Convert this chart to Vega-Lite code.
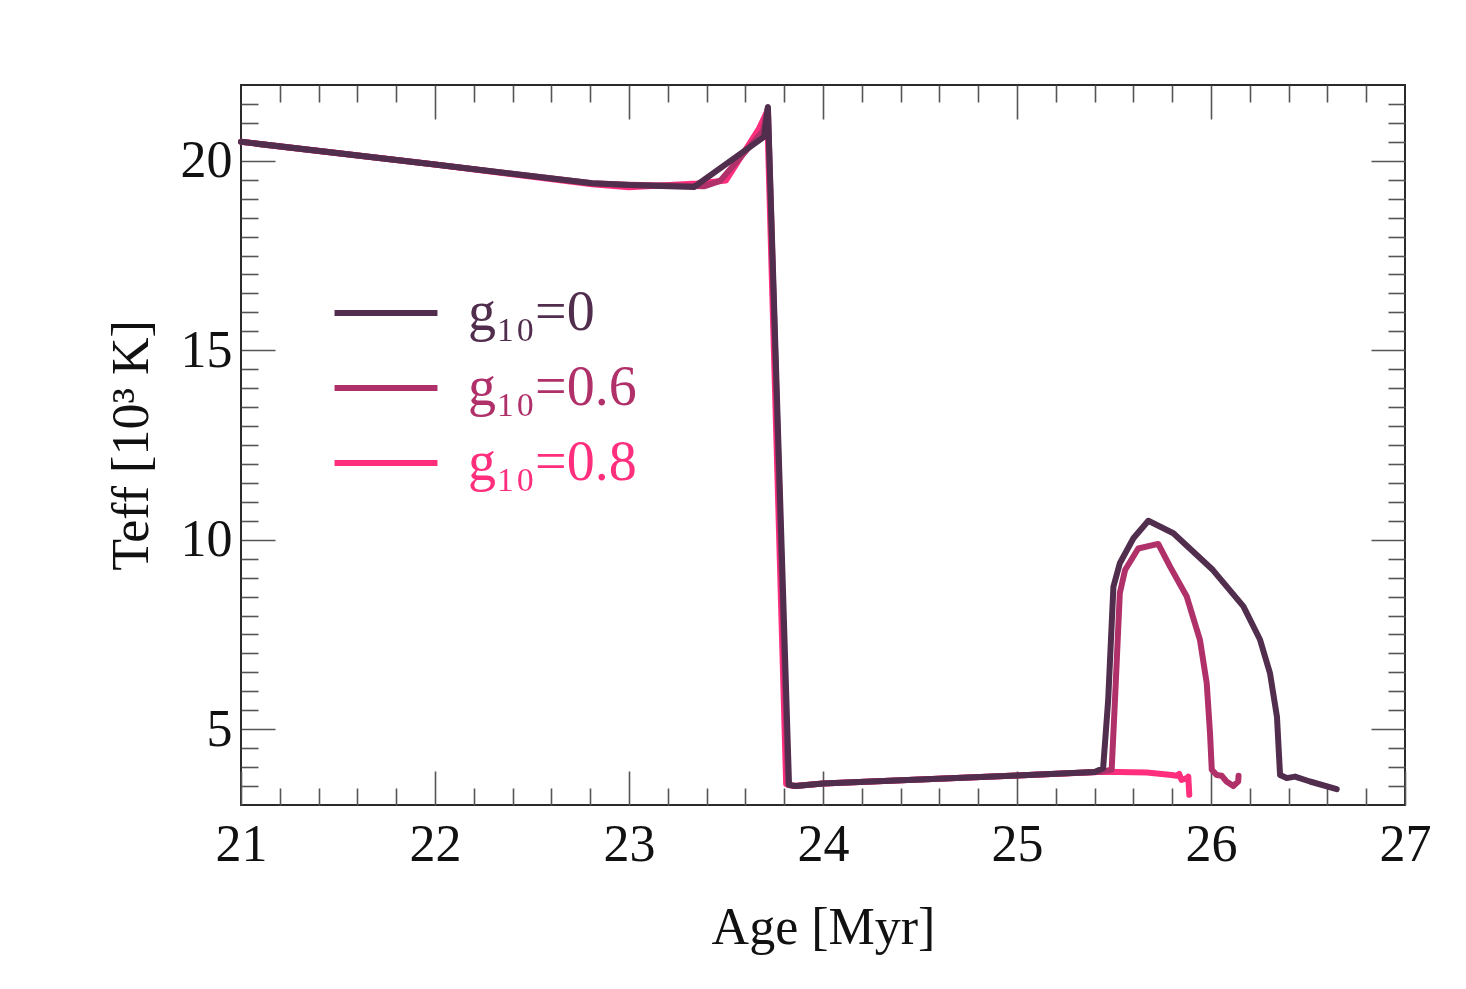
{
  "$schema": "https://vega.github.io/schema/vega-lite/v6.json",
  "width": 1164,
  "height": 720,
  "autosize": {"type": "none"},
  "padding": {"left": 241, "top": 85, "right": 61, "bottom": 184},
  "background": "white",
  "config": {
    "view": {"stroke": "#2a2a2a", "strokeWidth": 2},
    "font": "Liberation Serif",
    "axis": {
      "grid": false,
      "domain": false,
      "tickColor": "#555555",
      "tickWidth": 1.6,
      "labelFont": "Liberation Serif",
      "titleFont": "Liberation Serif",
      "labelColor": "#111111",
      "titleColor": "#111111",
      "labelFontSize": 52,
      "titleFontSize": 52,
      "titleFontWeight": "normal",
      "labelOverlap": false,
      "labelFlush": false
    }
  },
  "data": {
    "values": [
      {"s": "g₁₀=0.8", "i": 1, "age": 21.0, "T": 20.5},
      {"s": "g₁₀=0.8", "i": 2, "age": 22.0, "T": 19.9},
      {"s": "g₁₀=0.8", "i": 3, "age": 22.81, "T": 19.38},
      {"s": "g₁₀=0.8", "i": 4, "age": 23.0, "T": 19.3},
      {"s": "g₁₀=0.8", "i": 5, "age": 23.35, "T": 19.4},
      {"s": "g₁₀=0.8", "i": 6, "age": 23.5, "T": 19.48},
      {"s": "g₁₀=0.8", "i": 7, "age": 23.67, "T": 20.85},
      {"s": "g₁₀=0.8", "i": 8, "age": 23.712, "T": 21.3},
      {"s": "g₁₀=0.8", "i": 9, "age": 23.81, "T": 3.55},
      {"s": "g₁₀=0.8", "i": 10, "age": 23.85, "T": 3.5},
      {"s": "g₁₀=0.8", "i": 11, "age": 24.0, "T": 3.57},
      {"s": "g₁₀=0.8", "i": 12, "age": 24.5, "T": 3.67},
      {"s": "g₁₀=0.8", "i": 13, "age": 25.0, "T": 3.78},
      {"s": "g₁₀=0.8", "i": 14, "age": 25.45, "T": 3.88},
      {"s": "g₁₀=0.8", "i": 15, "age": 25.669, "T": 3.86},
      {"s": "g₁₀=0.8", "i": 16, "age": 25.797, "T": 3.79},
      {"s": "g₁₀=0.8", "i": 17, "age": 25.823, "T": 3.77},
      {"s": "g₁₀=0.8", "i": 18, "age": 25.836, "T": 3.82},
      {"s": "g₁₀=0.8", "i": 19, "age": 25.848, "T": 3.66},
      {"s": "g₁₀=0.8", "i": 20, "age": 25.875, "T": 3.71},
      {"s": "g₁₀=0.8", "i": 21, "age": 25.883, "T": 3.75},
      {"s": "g₁₀=0.8", "i": 22, "age": 25.888, "T": 3.27},

      {"s": "g₁₀=0.6", "i": 1, "age": 21.0, "T": 20.5},
      {"s": "g₁₀=0.6", "i": 2, "age": 22.0, "T": 19.9},
      {"s": "g₁₀=0.6", "i": 3, "age": 22.81, "T": 19.41},
      {"s": "g₁₀=0.6", "i": 4, "age": 23.0, "T": 19.37},
      {"s": "g₁₀=0.6", "i": 5, "age": 23.39, "T": 19.33},
      {"s": "g₁₀=0.6", "i": 6, "age": 23.47, "T": 19.47},
      {"s": "g₁₀=0.6", "i": 7, "age": 23.69, "T": 20.78},
      {"s": "g₁₀=0.6", "i": 8, "age": 23.716, "T": 21.4},
      {"s": "g₁₀=0.6", "i": 9, "age": 23.82, "T": 3.53},
      {"s": "g₁₀=0.6", "i": 10, "age": 23.86, "T": 3.5},
      {"s": "g₁₀=0.6", "i": 11, "age": 24.0, "T": 3.57},
      {"s": "g₁₀=0.6", "i": 12, "age": 24.5, "T": 3.67},
      {"s": "g₁₀=0.6", "i": 13, "age": 25.0, "T": 3.78},
      {"s": "g₁₀=0.6", "i": 14, "age": 25.44, "T": 3.88},
      {"s": "g₁₀=0.6", "i": 15, "age": 25.488, "T": 3.93},
      {"s": "g₁₀=0.6", "i": 16, "age": 25.505, "T": 5.77},
      {"s": "g₁₀=0.6", "i": 17, "age": 25.53, "T": 8.59},
      {"s": "g₁₀=0.6", "i": 18, "age": 25.557, "T": 9.2},
      {"s": "g₁₀=0.6", "i": 19, "age": 25.625, "T": 9.77},
      {"s": "g₁₀=0.6", "i": 20, "age": 25.728, "T": 9.89},
      {"s": "g₁₀=0.6", "i": 21, "age": 25.789, "T": 9.29},
      {"s": "g₁₀=0.6", "i": 22, "age": 25.875, "T": 8.5},
      {"s": "g₁₀=0.6", "i": 23, "age": 25.943, "T": 7.36},
      {"s": "g₁₀=0.6", "i": 24, "age": 25.978, "T": 6.21},
      {"s": "g₁₀=0.6", "i": 25, "age": 25.995, "T": 4.89},
      {"s": "g₁₀=0.6", "i": 26, "age": 26.004, "T": 3.93},
      {"s": "g₁₀=0.6", "i": 27, "age": 26.03, "T": 3.79},
      {"s": "g₁₀=0.6", "i": 28, "age": 26.055, "T": 3.77},
      {"s": "g₁₀=0.6", "i": 29, "age": 26.08, "T": 3.62},
      {"s": "g₁₀=0.6", "i": 30, "age": 26.115, "T": 3.5},
      {"s": "g₁₀=0.6", "i": 31, "age": 26.14, "T": 3.62},
      {"s": "g₁₀=0.6", "i": 32, "age": 26.142, "T": 3.77},

      {"s": "g₁₀=0", "i": 1, "age": 21.0, "T": 20.5},
      {"s": "g₁₀=0", "i": 2, "age": 22.0, "T": 19.9},
      {"s": "g₁₀=0", "i": 3, "age": 22.81, "T": 19.41},
      {"s": "g₁₀=0", "i": 4, "age": 23.0, "T": 19.36},
      {"s": "g₁₀=0", "i": 5, "age": 23.335, "T": 19.31},
      {"s": "g₁₀=0", "i": 6, "age": 23.696, "T": 20.63},
      {"s": "g₁₀=0", "i": 7, "age": 23.716, "T": 21.42},
      {"s": "g₁₀=0", "i": 8, "age": 23.825, "T": 3.53},
      {"s": "g₁₀=0", "i": 9, "age": 23.86, "T": 3.5},
      {"s": "g₁₀=0", "i": 10, "age": 24.0, "T": 3.57},
      {"s": "g₁₀=0", "i": 11, "age": 24.5, "T": 3.67},
      {"s": "g₁₀=0", "i": 12, "age": 25.0, "T": 3.78},
      {"s": "g₁₀=0", "i": 13, "age": 25.4, "T": 3.87},
      {"s": "g₁₀=0", "i": 14, "age": 25.444, "T": 3.97},
      {"s": "g₁₀=0", "i": 15, "age": 25.47, "T": 5.77},
      {"s": "g₁₀=0", "i": 16, "age": 25.497, "T": 8.76},
      {"s": "g₁₀=0", "i": 17, "age": 25.53, "T": 9.38},
      {"s": "g₁₀=0", "i": 18, "age": 25.6, "T": 10.04},
      {"s": "g₁₀=0", "i": 19, "age": 25.677, "T": 10.5},
      {"s": "g₁₀=0", "i": 20, "age": 25.806, "T": 10.17},
      {"s": "g₁₀=0", "i": 21, "age": 26.01, "T": 9.2},
      {"s": "g₁₀=0", "i": 22, "age": 26.167, "T": 8.24},
      {"s": "g₁₀=0", "i": 23, "age": 26.253, "T": 7.36},
      {"s": "g₁₀=0", "i": 24, "age": 26.304, "T": 6.48},
      {"s": "g₁₀=0", "i": 25, "age": 26.34, "T": 5.33},
      {"s": "g₁₀=0", "i": 26, "age": 26.356, "T": 3.79},
      {"s": "g₁₀=0", "i": 27, "age": 26.39, "T": 3.71},
      {"s": "g₁₀=0", "i": 28, "age": 26.433, "T": 3.75},
      {"s": "g₁₀=0", "i": 29, "age": 26.51, "T": 3.62},
      {"s": "g₁₀=0", "i": 30, "age": 26.648, "T": 3.42}
    ]
  },
  "resolve": {"axis": {"x": "independent", "y": "independent"}},
  "layer": [
    {
      "mark": {"type": "line", "strokeWidth": 6, "strokeCap": "round", "strokeJoin": "round"},
      "encoding": {
        "x": {
          "field": "age", "type": "quantitative",
          "scale": {"domain": [21, 27], "nice": false, "zero": false},
          "axis": {"orient": "bottom", "values": [21, 22, 23, 24, 25, 26, 27], "tickSize": -34, "labelPadding": 48, "title": "Age [Myr]", "titlePadding": 32, "format": "d"}
        },
        "y": {
          "field": "T", "type": "quantitative",
          "scale": {"domain": [3, 22], "nice": false, "zero": false},
          "axis": {"orient": "left", "values": [5, 10, 15, 20], "tickSize": -34, "labelPadding": 43, "title": "Teff [10³ K]", "titlePadding": 22, "format": "d"}
        },
        "color": {
          "field": "s", "type": "nominal",
          "scale": {"domain": ["g₁₀=0", "g₁₀=0.6", "g₁₀=0.8"], "range": ["#522e4e", "#b0306a", "#ff2f7e"]},
          "legend": {
            "orient": "none", "legendX": 98, "legendY": 181, "title": null,
            "symbolType": "M-1.17,0H1.17", "symbolSize": 7744, "symbolStrokeWidth": 6,
            "symbolFillColor": "transparent",
            "labelFont": "Liberation Serif", "labelFontSize": 56, "labelOffset": 35, "labelLimit": 500,
            "rowPadding": 0, "padding": 0,
            "encode": {"labels": {"update": {"fill": {"scale": "color", "field": "value"}}}}
          }
        },
        "order": {"field": "i", "type": "quantitative"}
      }
    },
    {
      "mark": {"type": "line", "opacity": 0},
      "encoding": {
        "x": {"field": "age", "type": "quantitative", "scale": {"domain": [21, 27], "nice": false, "zero": false},
          "axis": {"orient": "bottom", "values": [21.2, 21.4, 21.6, 21.8, 22.2, 22.4, 22.6, 22.8, 23.2, 23.4, 23.6, 23.8, 24.2, 24.4, 24.6, 24.8, 25.2, 25.4, 25.6, 25.8, 26.2, 26.4, 26.6, 26.8], "tickSize": -17, "labels": false, "title": null}},
        "y": {"field": "T", "type": "quantitative", "scale": {"domain": [3, 22], "nice": false, "zero": false},
          "axis": {"orient": "left", "values": [3.5, 4, 4.5, 5.5, 6, 6.5, 7, 7.5, 8, 8.5, 9, 9.5, 10.5, 11, 11.5, 12, 12.5, 13, 13.5, 14, 14.5, 15.5, 16, 16.5, 17, 17.5, 18, 18.5, 19, 19.5, 20.5, 21, 21.5], "tickSize": -17, "labels": false, "title": null}},
        "detail": {"field": "s"},
        "order": {"field": "i", "type": "quantitative"}
      }
    },
    {
      "mark": {"type": "line", "opacity": 0},
      "encoding": {
        "x": {"field": "age", "type": "quantitative", "scale": {"domain": [21, 27], "nice": false, "zero": false},
          "axis": {"orient": "top", "values": [22, 23, 24, 25, 26], "tickSize": -34, "labels": false, "title": null}},
        "y": {"field": "T", "type": "quantitative", "scale": {"domain": [3, 22], "nice": false, "zero": false},
          "axis": {"orient": "right", "values": [5, 10, 15, 20], "tickSize": -34, "labels": false, "title": null}},
        "detail": {"field": "s"},
        "order": {"field": "i", "type": "quantitative"}
      }
    },
    {
      "mark": {"type": "line", "opacity": 0},
      "encoding": {
        "x": {"field": "age", "type": "quantitative", "scale": {"domain": [21, 27], "nice": false, "zero": false},
          "axis": {"orient": "top", "values": [21.2, 21.4, 21.6, 21.8, 22.2, 22.4, 22.6, 22.8, 23.2, 23.4, 23.6, 23.8, 24.2, 24.4, 24.6, 24.8, 25.2, 25.4, 25.6, 25.8, 26.2, 26.4, 26.6, 26.8], "tickSize": -17, "labels": false, "title": null}},
        "y": {"field": "T", "type": "quantitative", "scale": {"domain": [3, 22], "nice": false, "zero": false},
          "axis": {"orient": "right", "values": [3.5, 4, 4.5, 5.5, 6, 6.5, 7, 7.5, 8, 8.5, 9, 9.5, 10.5, 11, 11.5, 12, 12.5, 13, 13.5, 14, 14.5, 15.5, 16, 16.5, 17, 17.5, 18, 18.5, 19, 19.5, 20.5, 21, 21.5], "tickSize": -17, "labels": false, "title": null}},
        "detail": {"field": "s"},
        "order": {"field": "i", "type": "quantitative"}
      }
    }
  ]
}
